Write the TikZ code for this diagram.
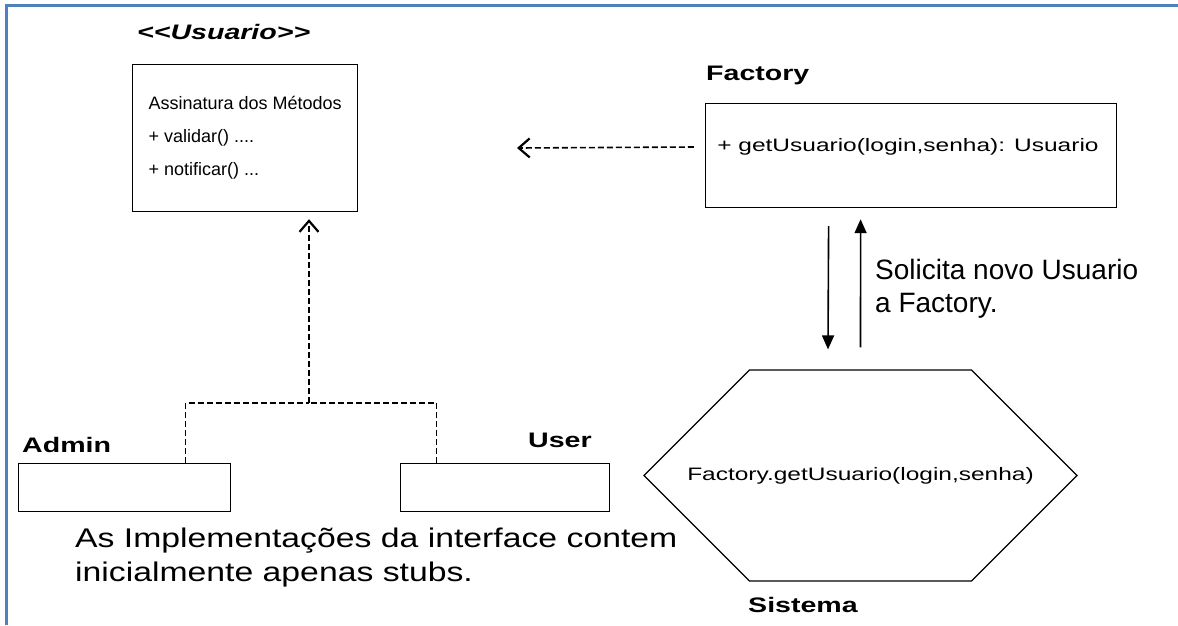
\documentclass[tikz,border=0pt]{standalone}
\usepackage{fontspec}
\setmainfont{Liberation Sans}
\newfontfamily\widefont[FakeStretch=1.36]{Liberation Sans}
\newfontfamily\stubsfont[FakeStretch=1.25]{Liberation Sans}
\usetikzlibrary{arrows.meta,shapes.symbols}
\definecolor{framecol}{RGB}{79,129,189}

\begin{document}
\begin{tikzpicture}[
    x=1pt, y=-1pt,
    classbox/.style={rectangle, draw=black, line width=1.2pt, anchor=north west, inner sep=0pt},
    implbox/.style={rectangle, draw=black, line width=1.2pt, anchor=north west, minimum height=48pt, inner sep=0pt},
    sysnode/.style={shape=signal, signal to=west and east, signal pointer angle=90, draw=black, line width=1.2pt, minimum height=211pt, inner sep=0pt, font=\widefont\fontsize{18}{21}\selectfont},
    title/.style={anchor=west, inner sep=0pt, font=\widefont\fontsize{21}{25}\selectfont\bfseries},
    note/.style={anchor=base west, inner sep=0pt, align=left},
    deparrow/.style={-{Straight Barb[length=11pt,width=19pt,line width=2.2pt]}, line width=1.6pt, dash pattern=on 6pt off 3pt},
    implline/.style={line width=1.6pt, dash pattern=on 6pt off 3pt},
    msgarrow/.style={-{Triangle[length=14pt,width=12pt]}, line width=1.6pt}
]

\useasboundingbox (0,0) rectangle (1178,625);
\draw[framecol, line width=3pt] (6,625) -- (6,5) -- (1178,5);

% interface
\node[title, font=\widefont\fontsize{21}{25}\selectfont\bfseries\itshape] (usutitle) at (137,32) {{<}{<}Usuario{>}{>}};
\node[classbox, minimum width=225pt, minimum height=147pt, align=left,
      font=\fontsize{18}{33}\selectfont] (usuario) at (132,64)
      {Assinatura dos Métodos\\+ validar() ....\\+ notificar() ...};

% factory
\node[title] (factitle) at (706,75) {Factory};
\node[classbox, minimum width=411pt, minimum height=104pt] (factory) at (705,103) {};
\node[font=\widefont\fontsize{18}{21}\selectfont] (getusu) at (908,147) {+ getUsuario(login,senha): Usuario};
\coordinate (deptip) at (517,148);
\draw[deparrow] ([xshift=-20pt]getusu.west) -- (deptip);

% sistema
\node[sysnode] (sistema) at (860.5,475.5) {\makebox[222pt]{Factory.getUsuario(login,senha)}};
\node[title] (systitle) at (748,605) {Sistema};
\draw[msgarrow] ([xshift=-82.5pt,yshift=-18pt]factory.south) -- ([xshift=-32.5pt,yshift=20pt]sistema.north);
\draw[msgarrow] ([yshift=22pt]sistema.north) -- ([xshift=-50.5pt,yshift=-11pt]factory.south);
\node[note, font=\fontsize{28}{33}\selectfont] (solicita) at (875,312) {Solicita novo Usuario\\a Factory.};

% implementations
\node[title] (admtitle) at (22,445) {Admin};
\node[implbox, minimum width=212pt] (admin) at (18,463) {};
\node[title] (usrtitle) at (528,440) {User};
\node[implbox, minimum width=209pt] (user) at (400,463) {};
\coordinate (join) at (309,403);
\draw[implline] ([xshift=61pt]admin.north) |- (join);
\draw[implline] ([xshift=-68.5pt]user.north) |- (join);
\draw[deparrow, shorten >=7pt] (join) -- (join |- usuario.south);
\node[note, font=\stubsfont\fontsize{27}{34}\selectfont] (stubs) at (75,581) {As Implementações da interface contem\\inicialmente apenas stubs.};

\end{tikzpicture}
\end{document}
